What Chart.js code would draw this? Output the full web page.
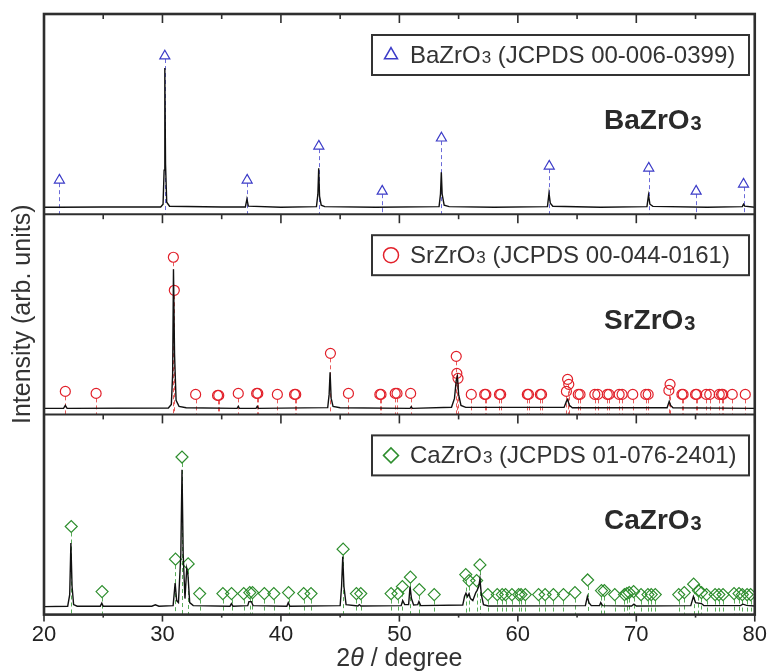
<!DOCTYPE html>
<html>
<head>
<meta charset="utf-8">
<title>XRD patterns</title>
<script src="https://cdn.jsdelivr.net/npm/chart.js@4.4.1/dist/chart.umd.min.js"></script>
<style>
    html, body { margin: 0; padding: 0; background: #fff; }
    #wrap { width: 774px; height: 672px; }
</style>
</head>
<body>
<div id="wrap"><canvas id="xrdChart" width="774" height="672"></canvas></div>
<script>
// === Data (2θ in degree, intensity in panel units 0..100) ===
const phaseNames = ['BaZrO', 'SrZrO', 'CaZrO'];
const jcpdsCards = ['00-006-0399', '00-044-0161', '01-076-2401'];
const panelOffsets = [200, 100, 0];
const xMajorTicks = [20, 30, 40, 50, 60, 70, 80];
const xMinorTicks = [25, 35, 45, 55, 65, 75];

const baPattern = [
    [20, 3.5], [21.2, 3.5], [25, 3.6], [29.85, 3.6], [30.05, 5], [30.14, 22], [30.2, 73], [30.26, 25],
    [30.36, 6], [30.6, 4], [35, 3.6], [37.0, 3.6], [37.13, 7.5], [37.25, 4], [40, 3.5], [43.0, 3.8],
    [43.12, 10], [43.19, 23], [43.26, 9], [43.4, 4.5], [43.7, 3.8], [48, 3.5], [53.35, 3.8], [53.47, 10],
    [53.54, 21], [53.61, 10], [53.78, 4.5], [54.2, 3.8], [58, 3.5], [62.5, 3.8], [62.63, 10.5], [62.74, 5.5],
    [62.95, 4], [67, 3.5], [70.9, 3.8], [71.03, 9.5], [71.15, 5], [71.4, 3.9], [76, 3.5], [78.95, 3.8],
    [79.05, 5], [79.15, 4], [80, 3.5]
];
const srPattern = [
    [20, 3], [21.65, 3], [21.8, 4.5], [21.95, 3], [30.5, 3.2], [30.75, 5], [30.86, 20], [30.93, 72.5],
    [31.02, 30], [31.15, 7], [31.4, 4], [32, 3.3], [36.3, 3], [36.4, 4], [36.5, 3], [37.9, 3], [38.0, 4],
    [38.1, 3], [43.95, 3.4], [44.07, 10], [44.15, 21], [44.24, 8], [44.4, 4], [45, 3.3], [50.9, 3],
    [51.0, 3.8], [51.1, 3], [54.4, 3.6], [54.65, 8], [54.8, 17], [54.9, 19], [55.0, 10], [55.2, 4.5],
    [55.6, 3.5], [63.9, 3.5], [64.1, 6.5], [64.2, 7.5], [64.35, 4.5], [64.6, 3.3], [72.6, 3.3],
    [72.78, 6.5], [72.9, 4.5], [73.1, 3.3], [80, 3]
];
const caPattern = [
    [20, 4], [22.0, 4.2], [22.17, 10], [22.27, 35.7], [22.37, 14], [22.5, 5], [22.8, 4.2], [24.75, 4.2],
    [24.88, 5.7], [25.0, 4.2], [29.1, 4.2], [29.4, 4.9], [29.7, 4.2], [30.9, 4.5], [31.07, 15.7],
    [31.2, 7], [31.35, 6], [31.55, 30], [31.65, 72.3], [31.75, 30], [31.9, 8], [32.05, 23], [32.15, 20],
    [32.3, 6], [32.6, 4.5], [35.7, 4.2], [35.82, 5.5], [35.95, 4.2], [37.2, 4.5], [37.3, 6.5],
    [37.5, 6.5], [37.65, 4.5], [40.5, 4.2], [40.62, 6], [40.75, 4.2], [45.0, 4.5], [45.12, 14],
    [45.22, 29], [45.32, 14], [45.5, 5], [46.5, 4.3], [46.62, 5], [46.75, 4.3], [50.15, 4.5],
    [50.28, 7], [50.45, 5], [50.78, 5], [50.9, 14], [51.02, 8], [51.2, 4.8], [51.55, 5], [51.65, 6.5],
    [51.8, 4.5], [55.35, 4.8], [55.5, 9], [55.62, 10.7], [55.75, 9], [55.88, 10.5], [56.0, 8],
    [56.2, 7], [56.45, 11], [56.55, 12], [56.7, 14], [56.8, 17.8], [56.92, 10], [57.1, 5], [57.5, 4.3],
    [65.7, 4.5], [65.87, 9], [66.0, 6], [66.2, 4.5], [66.9, 4.5], [67.0, 6], [67.15, 4.5], [69.6, 4.3],
    [69.8, 5.2], [70.0, 4.3], [74.6, 4.5], [74.82, 9], [75.0, 6], [75.5, 5.5], [75.7, 4.5], [78.8, 4.5],
    [79.0, 5.2], [79.3, 4.6], [80, 4.3]
];

// reference lines (2θ, marker height)
const baRefs = [
    [21.3, 17], [30.2, 79], [37.15, 17], [43.2, 34], [48.55, 11.5], [53.55, 38], [62.65, 24],
    [71.05, 23], [75.05, 11.5], [79.05, 15]
];
const srRefs = [
    [21.8, 11.5], [24.4, 10.5], [30.92, 78.5], [31.0, 62], [32.8, 10], [34.65, 9.5], [34.75, 9.5],
    [36.4, 10.5], [37.95, 10.5], [38.05, 10.5], [39.7, 10], [41.15, 10], [41.25, 10], [44.18, 30.5],
    [45.7, 10.5], [48.35, 10], [48.45, 10], [49.65, 10.5], [49.8, 10.5], [50.95, 10.5], [54.8, 29],
    [54.85, 20.5], [54.95, 18], [56.07, 10], [57.2, 10], [57.3, 10], [58.45, 10], [58.55, 10],
    [60.8, 10], [60.9, 10], [61.9, 10], [62.0, 10], [64.1, 11.5], [64.2, 17.5], [64.3, 15],
    [65.1, 10], [65.25, 10], [66.5, 10], [66.75, 10], [67.55, 10], [67.7, 10], [68.55, 10],
    [68.8, 10], [69.7, 10], [70.8, 10], [71.0, 10], [72.75, 12], [72.85, 15], [73.85, 10],
    [73.95, 10], [75.0, 10], [75.1, 10], [75.9, 10], [76.2, 10], [77.0, 10], [77.2, 10], [77.3, 10],
    [78.1, 10], [79.2, 10]
];
const caRefs = [
    [22.3, 44], [24.9, 11.5], [31.1, 27.7], [31.65, 78.7], [32.17, 25.3], [33.14, 10.5], [35.1, 10.5],
    [35.83, 10.5], [36.86, 10.5], [37.37, 11], [37.6, 11], [38.6, 10.5], [39.4, 10.5], [40.64, 11],
    [41.92, 10.5], [42.54, 10.5], [45.25, 32.7], [46.37, 10.5], [46.74, 10.5], [49.3, 10.5],
    [49.87, 10.5], [50.25, 14], [50.93, 18.7], [51.68, 12.5], [52.94, 10], [55.6, 20], [55.88, 17],
    [56.52, 17], [56.8, 24.8], [57.47, 10], [58.26, 10], [58.68, 10], [58.96, 10], [59.5, 10],
    [60.07, 10], [60.27, 10], [60.63, 10], [61.75, 10], [62.3, 10], [63.0, 10], [63.85, 10],
    [64.82, 11], [65.89, 17.3], [67.06, 12], [67.3, 12], [68.18, 10], [69.0, 10], [69.2, 10.5],
    [69.4, 11], [69.77, 11.5], [70.4, 10], [70.98, 10], [71.26, 10], [71.6, 10], [73.58, 10],
    [74.05, 11], [74.84, 15.2], [75.24, 12], [75.5, 11], [75.93, 10], [76.65, 10], [76.97, 10],
    [77.32, 10], [78.25, 10.5], [78.67, 10.5], [78.95, 10], [79.35, 10], [79.65, 10]
];

// === Styles ===
const FONT = "'Liberation Sans', Arial, Helvetica, sans-serif";
const refStyles = [
    { style: 'triangle', radius: 5.8, legendRadius: 7.5, color: '#3c3cc8', dash: '#6b6bd8', gap: 3 },
    { style: 'circle', radius: 5, legendRadius: 7.5, color: '#e2202a', dash: '#e85c5c', gap: 5 },
    { style: 'rectRot', radius: 6, legendRadius: 7.5, color: '#2e8e2e', dash: '#5aac5a', gap: 6 }
];

function toPoints(list, offset) {
    return list.map(p => ({ x: p[0], y: p[1] + offset }));
}

const patterns = [baPattern, srPattern, caPattern];
const refs = [baRefs, srRefs, caRefs];

const datasets = [];
patterns.forEach((pat, i) => {
    datasets.push({
        type: 'line',
        data: toPoints(pat, panelOffsets[i]),
        borderColor: '#111',
        borderWidth: 1.4,
        pointRadius: 0,
        tension: 0
    });
});
refs.forEach((ref, i) => {
    const s = refStyles[i];
    datasets.push({
        type: 'scatter',
        data: toPoints(ref, panelOffsets[i]),
        pointStyle: s.style,
        pointRadius: s.radius,
        pointBorderWidth: 1.2,
        borderColor: s.color,
        backgroundColor: 'rgba(0,0,0,0)'
    });
});

// draws "XxZrO" + smaller "3", returns width
function drawFormula(ctx, x, y, name, bigFont, smallFont, drop) {
    ctx.font = bigFont;
    ctx.fillText(name, x, y);
    const w = ctx.measureText(name).width;
    ctx.font = smallFont;
    ctx.fillText('3', x + w + 1, y + drop);
    return w + 1 + ctx.measureText('3').width;
}

// === Frame, ticks, drop lines and labels ===
const framePlugin = {
    id: 'framePlugin',
    beforeDatasetsDraw(chart) {
        const { ctx, chartArea: a, scales: { y } } = chart;
        ctx.save();
        ctx.beginPath();
        ctx.rect(a.left, a.top, a.right - a.left, a.bottom - a.top);
        ctx.clip();
        ctx.lineWidth = 1;
        ctx.setLineDash([4, 3]);
        refStyles.forEach((s, i) => {
            const meta = chart.getDatasetMeta(3 + i);
            const yBase = y.getPixelForValue(panelOffsets[i]);
            ctx.strokeStyle = s.dash;
            meta.data.forEach(pt => {
                const px = Math.round(pt.x) + 0.5;
                ctx.beginPath();
                ctx.moveTo(px, pt.y + s.gap);
                ctx.lineTo(px, yBase);
                ctx.stroke();
            });
        });
        ctx.restore();
    },
    afterDraw(chart) {
        const { ctx, chartArea: a, scales: { x, y } } = chart;
        ctx.save();
        ctx.strokeStyle = '#2e2e2e';
        ctx.fillStyle = '#2e2e2e';

        // panel separators and outer frame
        ctx.lineWidth = 2;
        [100, 200].forEach(v => {
            const py = y.getPixelForValue(v);
            ctx.beginPath();
            ctx.moveTo(a.left, py);
            ctx.lineTo(a.right, py);
            ctx.stroke();
        });
        ctx.lineWidth = 2.6;
        ctx.strokeRect(a.left, a.top, a.right - a.left, a.bottom - a.top);

        // inward ticks at the top of each panel, outward at the bottom
        ctx.lineWidth = 1.6;
        const tickSets = [[xMajorTicks, 9], [xMinorTicks, 5]];
        panelOffsets.forEach(off => {
            const top = y.getPixelForValue(off + 100);
            tickSets.forEach(([vals, len]) => {
                vals.forEach(v => {
                    const px = x.getPixelForValue(v);
                    ctx.beginPath();
                    ctx.moveTo(px, top);
                    ctx.lineTo(px, top + len);
                    ctx.stroke();
                });
            });
        });
        tickSets.forEach(([vals, len]) => {
            vals.forEach(v => {
                const px = x.getPixelForValue(v);
                ctx.beginPath();
                ctx.moveTo(px, a.bottom);
                ctx.lineTo(px, a.bottom + len - 2);
                ctx.stroke();
            });
        });

        // legend boxes and phase labels
        panelOffsets.forEach((off, i) => {
            const top = y.getPixelForValue(off + 100);
            const s = refStyles[i];
            ctx.lineWidth = 2;
            ctx.strokeStyle = '#333';
            ctx.strokeRect(372, top + 21, 377, 40);

            ctx.save();
            ctx.strokeStyle = s.color;
            ctx.fillStyle = 'rgba(0,0,0,0)';
            ctx.lineWidth = 1.5;
            Chart.helpers.drawPoint(ctx, { pointStyle: s.style, radius: s.legendRadius, borderWidth: 1.5, rotation: 0 }, 391, top + 41);
            ctx.restore();

            ctx.fillStyle = '#333';
            ctx.textAlign = 'left';
            ctx.textBaseline = 'alphabetic';
            const w = drawFormula(ctx, 410, top + 49, phaseNames[i], `24px ${FONT}`, `17px ${FONT}`, 0);
            ctx.font = `24px ${FONT}`;
            ctx.fillText(' (JCPDS ' + jcpdsCards[i] + ')', 410 + w, top + 49);

            ctx.fillStyle = '#2a2a2a';
            drawFormula(ctx, 604, top + 115, phaseNames[i], `bold 28px ${FONT}`, `bold 20px ${FONT}`, 1);
        });

        // x axis title with italic theta
        ctx.fillStyle = '#333';
        ctx.textBaseline = 'middle';
        const cy = 659;
        const parts = [['2', `25px ${FONT}`], ['\u03B8', `italic 25px ${FONT}`], [' / degree', `25px ${FONT}`]];
        let total = 0;
        parts.forEach(([t, f]) => { ctx.font = f; total += ctx.measureText(t).width; });
        let cx = (a.left + a.right) / 2 - total / 2;
        parts.forEach(([t, f]) => {
            ctx.font = f;
            ctx.fillText(t, cx, cy);
            cx += ctx.measureText(t).width;
        });
        ctx.restore();
    }
};

// === Chart ===
document.addEventListener('DOMContentLoaded', function () {
    Chart.defaults.font.family = FONT;
    Chart.defaults.color = '#222';

    new Chart(document.getElementById('xrdChart'), {
        type: 'scatter',
        data: { datasets: datasets },
        options: {
            responsive: false,
            animation: false,
            devicePixelRatio: 1,
            layout: { padding: { left: 11, right: 15, top: 14, bottom: 17 } },
            plugins: {
                legend: { display: false },
                tooltip: { enabled: false }
            },
            scales: {
                x: {
                    type: 'linear',
                    min: 20,
                    max: 80,
                    grid: { display: false, drawTicks: false },
                    border: { display: false },
                    ticks: {
                        stepSize: 10,
                        padding: 7,
                        maxRotation: 0,
                        color: '#222',
                        font: { size: 22 }
                    }
                },
                y: {
                    type: 'linear',
                    min: 0,
                    max: 300,
                    grid: { display: false, drawTicks: false },
                    border: { display: false },
                    ticks: { display: false },
                    title: {
                        display: true,
                        text: 'Intensity (arb. units)',
                        color: '#333',
                        font: { size: 25, lineHeight: 1 },
                        padding: { top: 0, bottom: 8 }
                    }
                }
            }
        },
        plugins: [framePlugin]
    });
});
</script>
</body>
</html>
